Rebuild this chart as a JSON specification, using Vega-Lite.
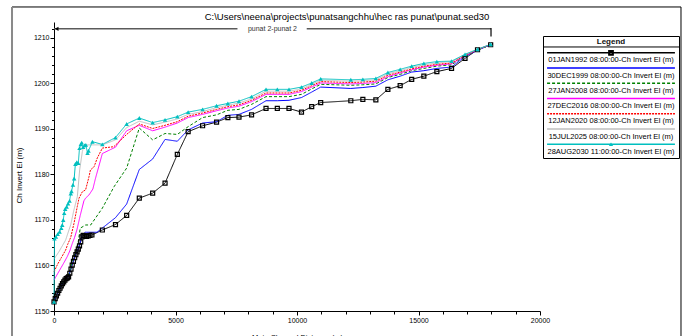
{
"$schema": "https://vega.github.io/schema/vega-lite/v6.json",
"padding": {"left": 11, "top": 5, "right": 0, "bottom": 0},
"background": "white",
"config": {"font": "Liberation Sans", "view": {"stroke": null}, "axis": {"labelOverlap": false, "labelFlush": false, "grid": false, "labelBound": false}},
"datasets": {
"prof": [
{"series":"01JAN1992","dist":0,"elev":1152.0},{"series":"01JAN1992","dist":50,"elev":1152.7},{"series":"01JAN1992","dist":100,"elev":1153.3},{"series":"01JAN1992","dist":150,"elev":1153.9},{"series":"01JAN1992","dist":200,"elev":1154.5},{"series":"01JAN1992","dist":250,"elev":1155.0},{"series":"01JAN1992","dist":300,"elev":1155.5},{"series":"01JAN1992","dist":350,"elev":1156.0},{"series":"01JAN1992","dist":400,"elev":1156.4},{"series":"01JAN1992","dist":450,"elev":1156.8},{"series":"01JAN1992","dist":500,"elev":1157.1},{"series":"01JAN1992","dist":550,"elev":1157.3},{"series":"01JAN1992","dist":600,"elev":1157.5},{"series":"01JAN1992","dist":650,"elev":1158.3},{"series":"01JAN1992","dist":700,"elev":1159.2},{"series":"01JAN1992","dist":750,"elev":1160.1},{"series":"01JAN1992","dist":800,"elev":1160.9},{"series":"01JAN1992","dist":850,"elev":1161.7},{"series":"01JAN1992","dist":900,"elev":1162.4},{"series":"01JAN1992","dist":950,"elev":1163.0},{"series":"01JAN1992","dist":1000,"elev":1163.6},{"series":"01JAN1992","dist":1050,"elev":1164.3},{"series":"01JAN1992","dist":1100,"elev":1165.2},{"series":"01JAN1992","dist":1150,"elev":1166.3},{"series":"01JAN1992","dist":1200,"elev":1166.6},{"series":"01JAN1992","dist":1270,"elev":1166.5},{"series":"01JAN1992","dist":1340,"elev":1166.4},{"series":"01JAN1992","dist":1410,"elev":1166.5},{"series":"01JAN1992","dist":1480,"elev":1166.6},{"series":"01JAN1992","dist":1560,"elev":1166.7},{"series":"01JAN1992","dist":1990,"elev":1167.8},{"series":"01JAN1992","dist":2530,"elev":1169.0},{"series":"01JAN1992","dist":2990,"elev":1171.0},{"series":"01JAN1992","dist":3510,"elev":1174.8},{"series":"01JAN1992","dist":4060,"elev":1175.9},{"series":"01JAN1992","dist":4570,"elev":1178.1},{"series":"01JAN1992","dist":5075,"elev":1184.4},{"series":"01JAN1992","dist":5520,"elev":1189.4},{"series":"01JAN1992","dist":6115,"elev":1190.7},{"series":"01JAN1992","dist":6690,"elev":1191.5},{"series":"01JAN1992","dist":7155,"elev":1192.5},{"series":"01JAN1992","dist":7613,"elev":1192.6},{"series":"01JAN1992","dist":8130,"elev":1193.1},{"series":"01JAN1992","dist":8725,"elev":1194.5},{"series":"01JAN1992","dist":9190,"elev":1194.5},{"series":"01JAN1992","dist":9671,"elev":1194.5},{"series":"01JAN1992","dist":10185,"elev":1193.7},{"series":"01JAN1992","dist":10605,"elev":1194.9},{"series":"01JAN1992","dist":10975,"elev":1195.8},{"series":"01JAN1992","dist":12215,"elev":1196.2},{"series":"01JAN1992","dist":12710,"elev":1196.5},{"series":"01JAN1992","dist":13245,"elev":1196.4},{"series":"01JAN1992","dist":13740,"elev":1198.7},{"series":"01JAN1992","dist":14245,"elev":1199.5},{"series":"01JAN1992","dist":14720,"elev":1200.9},{"series":"01JAN1992","dist":15220,"elev":1201.6},{"series":"01JAN1992","dist":15755,"elev":1202.6},{"series":"01JAN1992","dist":16360,"elev":1203.3},{"series":"01JAN1992","dist":16914,"elev":1205.5},{"series":"01JAN1992","dist":17428,"elev":1207.4},{"series":"01JAN1992","dist":17970,"elev":1208.5},
{"series":"30DEC1999","dist":0,"elev":1152.0},{"series":"30DEC1999","dist":100,"elev":1153.4},{"series":"30DEC1999","dist":200,"elev":1154.6},{"series":"30DEC1999","dist":300,"elev":1155.6},{"series":"30DEC1999","dist":400,"elev":1156.5},{"series":"30DEC1999","dist":500,"elev":1157.2},{"series":"30DEC1999","dist":600,"elev":1157.7},{"series":"30DEC1999","dist":700,"elev":1159.4},{"series":"30DEC1999","dist":800,"elev":1161.1},{"series":"30DEC1999","dist":900,"elev":1162.6},{"series":"30DEC1999","dist":1000,"elev":1163.8},{"series":"30DEC1999","dist":1100,"elev":1165.5},{"series":"30DEC1999","dist":1150,"elev":1166.7},{"series":"30DEC1999","dist":1290,"elev":1167.3},{"series":"30DEC1999","dist":1770,"elev":1167.3},{"series":"30DEC1999","dist":2530,"elev":1170.5},{"series":"30DEC1999","dist":2990,"elev":1173.5},{"series":"30DEC1999","dist":3510,"elev":1181.1},{"series":"30DEC1999","dist":4060,"elev":1183.4},{"series":"30DEC1999","dist":4570,"elev":1187.7},{"series":"30DEC1999","dist":5075,"elev":1187.3},{"series":"30DEC1999","dist":5520,"elev":1189.8},{"series":"30DEC1999","dist":6115,"elev":1191.3},{"series":"30DEC1999","dist":6690,"elev":1191.6},{"series":"30DEC1999","dist":7155,"elev":1193.0},{"series":"30DEC1999","dist":7613,"elev":1193.2},{"series":"30DEC1999","dist":8130,"elev":1194.3},{"series":"30DEC1999","dist":8725,"elev":1196.2},{"series":"30DEC1999","dist":9190,"elev":1196.2},{"series":"30DEC1999","dist":9671,"elev":1196.3},{"series":"30DEC1999","dist":10185,"elev":1196.9},{"series":"30DEC1999","dist":10605,"elev":1198.1},{"series":"30DEC1999","dist":10975,"elev":1199.2},{"series":"30DEC1999","dist":12215,"elev":1198.9},{"series":"30DEC1999","dist":12710,"elev":1199.1},{"series":"30DEC1999","dist":13245,"elev":1199.4},{"series":"30DEC1999","dist":13740,"elev":1200.8},{"series":"30DEC1999","dist":14245,"elev":1201.6},{"series":"30DEC1999","dist":14720,"elev":1202.5},{"series":"30DEC1999","dist":15220,"elev":1202.8},{"series":"30DEC1999","dist":15755,"elev":1203.3},{"series":"30DEC1999","dist":16360,"elev":1203.6},{"series":"30DEC1999","dist":16914,"elev":1205.9},{"series":"30DEC1999","dist":17428,"elev":1207.3},{"series":"30DEC1999","dist":17970,"elev":1208.5},
{"series":"27JAN2008","dist":0,"elev":1152.0},{"series":"27JAN2008","dist":100,"elev":1153.6},{"series":"27JAN2008","dist":200,"elev":1154.9},{"series":"27JAN2008","dist":300,"elev":1155.9},{"series":"27JAN2008","dist":400,"elev":1156.8},{"series":"27JAN2008","dist":500,"elev":1157.5},{"series":"27JAN2008","dist":600,"elev":1158.0},{"series":"27JAN2008","dist":700,"elev":1159.9},{"series":"27JAN2008","dist":800,"elev":1161.7},{"series":"27JAN2008","dist":900,"elev":1163.2},{"series":"27JAN2008","dist":1000,"elev":1165.3},{"series":"27JAN2008","dist":1080,"elev":1168.2},{"series":"27JAN2008","dist":1300,"elev":1168.9},{"series":"27JAN2008","dist":1510,"elev":1168.9},{"series":"27JAN2008","dist":1990,"elev":1172.6},{"series":"27JAN2008","dist":2470,"elev":1177.3},{"series":"27JAN2008","dist":2990,"elev":1181.4},{"series":"27JAN2008","dist":3510,"elev":1190.2},{"series":"27JAN2008","dist":4060,"elev":1187.6},{"series":"27JAN2008","dist":4570,"elev":1189.0},{"series":"27JAN2008","dist":5075,"elev":1188.8},{"series":"27JAN2008","dist":5520,"elev":1190.5},{"series":"27JAN2008","dist":6115,"elev":1192.5},{"series":"27JAN2008","dist":6690,"elev":1193.1},{"series":"27JAN2008","dist":7155,"elev":1194.1},{"series":"27JAN2008","dist":7613,"elev":1194.3},{"series":"27JAN2008","dist":8130,"elev":1195.4},{"series":"27JAN2008","dist":8725,"elev":1197.1},{"series":"27JAN2008","dist":9190,"elev":1197.1},{"series":"27JAN2008","dist":9671,"elev":1197.1},{"series":"27JAN2008","dist":10185,"elev":1197.6},{"series":"27JAN2008","dist":10605,"elev":1198.8},{"series":"27JAN2008","dist":10975,"elev":1199.8},{"series":"27JAN2008","dist":12215,"elev":1199.6},{"series":"27JAN2008","dist":12710,"elev":1199.7},{"series":"27JAN2008","dist":13245,"elev":1199.9},{"series":"27JAN2008","dist":13740,"elev":1201.3},{"series":"27JAN2008","dist":14245,"elev":1202.0},{"series":"27JAN2008","dist":14720,"elev":1202.8},{"series":"27JAN2008","dist":15220,"elev":1203.3},{"series":"27JAN2008","dist":15755,"elev":1203.8},{"series":"27JAN2008","dist":16360,"elev":1204.1},{"series":"27JAN2008","dist":16914,"elev":1206.0},{"series":"27JAN2008","dist":17428,"elev":1207.3},{"series":"27JAN2008","dist":17970,"elev":1208.5},
{"series":"27DEC2016","dist":0,"elev":1156.8},{"series":"27DEC2016","dist":150,"elev":1158.2},{"series":"27DEC2016","dist":300,"elev":1159.6},{"series":"27DEC2016","dist":450,"elev":1161.0},{"series":"27DEC2016","dist":550,"elev":1162.0},{"series":"27DEC2016","dist":650,"elev":1163.2},{"series":"27DEC2016","dist":750,"elev":1164.8},{"series":"27DEC2016","dist":850,"elev":1166.2},{"series":"27DEC2016","dist":950,"elev":1168.0},{"series":"27DEC2016","dist":1080,"elev":1171.0},{"series":"27DEC2016","dist":1230,"elev":1174.2},{"series":"27DEC2016","dist":1300,"elev":1174.8},{"series":"27DEC2016","dist":1440,"elev":1175.5},{"series":"27DEC2016","dist":1600,"elev":1176.8},{"series":"27DEC2016","dist":1700,"elev":1179.0},{"series":"27DEC2016","dist":1990,"elev":1184.6},{"series":"27DEC2016","dist":2530,"elev":1186.0},{"series":"27DEC2016","dist":2990,"elev":1189.6},{"series":"27DEC2016","dist":3510,"elev":1190.8},{"series":"27DEC2016","dist":4060,"elev":1189.6},{"series":"27DEC2016","dist":4570,"elev":1190.4},{"series":"27DEC2016","dist":5075,"elev":1191.3},{"series":"27DEC2016","dist":5520,"elev":1192.5},{"series":"27DEC2016","dist":6115,"elev":1193.2},{"series":"27DEC2016","dist":6690,"elev":1194.0},{"series":"27DEC2016","dist":7155,"elev":1194.6},{"series":"27DEC2016","dist":7613,"elev":1195.0},{"series":"27DEC2016","dist":8130,"elev":1196.0},{"series":"27DEC2016","dist":8725,"elev":1197.6},{"series":"27DEC2016","dist":9190,"elev":1197.6},{"series":"27DEC2016","dist":9671,"elev":1197.6},{"series":"27DEC2016","dist":10185,"elev":1198.2},{"series":"27DEC2016","dist":10605,"elev":1199.2},{"series":"27DEC2016","dist":10975,"elev":1200.1},{"series":"27DEC2016","dist":12215,"elev":1199.9},{"series":"27DEC2016","dist":12710,"elev":1200.0},{"series":"27DEC2016","dist":13245,"elev":1200.2},{"series":"27DEC2016","dist":13740,"elev":1201.5},{"series":"27DEC2016","dist":14245,"elev":1202.3},{"series":"27DEC2016","dist":14720,"elev":1203.0},{"series":"27DEC2016","dist":15220,"elev":1203.6},{"series":"27DEC2016","dist":15755,"elev":1204.0},{"series":"27DEC2016","dist":16360,"elev":1204.3},{"series":"27DEC2016","dist":16914,"elev":1206.1},{"series":"27DEC2016","dist":17428,"elev":1207.4},{"series":"27DEC2016","dist":17970,"elev":1208.6},
{"series":"12JAN2020","dist":0,"elev":1158.6},{"series":"12JAN2020","dist":150,"elev":1160.3},{"series":"12JAN2020","dist":300,"elev":1161.7},{"series":"12JAN2020","dist":480,"elev":1163.4},{"series":"12JAN2020","dist":560,"elev":1164.6},{"series":"12JAN2020","dist":690,"elev":1166.2},{"series":"12JAN2020","dist":820,"elev":1169.2},{"series":"12JAN2020","dist":960,"elev":1173.0},{"series":"12JAN2020","dist":1030,"elev":1174.8},{"series":"12JAN2020","dist":1166,"elev":1176.2},{"series":"12JAN2020","dist":1300,"elev":1176.6},{"series":"12JAN2020","dist":1440,"elev":1179.5},{"series":"12JAN2020","dist":1500,"elev":1181.0},{"series":"12JAN2020","dist":1650,"elev":1181.7},{"series":"12JAN2020","dist":1780,"elev":1183.6},{"series":"12JAN2020","dist":1990,"elev":1185.8},{"series":"12JAN2020","dist":2460,"elev":1186.1},{"series":"12JAN2020","dist":2990,"elev":1188.8},{"series":"12JAN2020","dist":3510,"elev":1191.1},{"series":"12JAN2020","dist":4060,"elev":1190.1},{"series":"12JAN2020","dist":4570,"elev":1190.8},{"series":"12JAN2020","dist":5075,"elev":1191.6},{"series":"12JAN2020","dist":5520,"elev":1192.8},{"series":"12JAN2020","dist":6115,"elev":1193.5},{"series":"12JAN2020","dist":6690,"elev":1194.3},{"series":"12JAN2020","dist":7155,"elev":1194.9},{"series":"12JAN2020","dist":7613,"elev":1195.3},{"series":"12JAN2020","dist":8130,"elev":1196.3},{"series":"12JAN2020","dist":8725,"elev":1197.9},{"series":"12JAN2020","dist":9190,"elev":1197.9},{"series":"12JAN2020","dist":9671,"elev":1197.9},{"series":"12JAN2020","dist":10185,"elev":1198.5},{"series":"12JAN2020","dist":10605,"elev":1199.5},{"series":"12JAN2020","dist":10975,"elev":1200.4},{"series":"12JAN2020","dist":12215,"elev":1200.2},{"series":"12JAN2020","dist":12710,"elev":1200.3},{"series":"12JAN2020","dist":13245,"elev":1200.5},{"series":"12JAN2020","dist":13740,"elev":1201.8},{"series":"12JAN2020","dist":14245,"elev":1202.5},{"series":"12JAN2020","dist":14720,"elev":1203.2},{"series":"12JAN2020","dist":15220,"elev":1203.8},{"series":"12JAN2020","dist":15755,"elev":1204.2},{"series":"12JAN2020","dist":16360,"elev":1204.5},{"series":"12JAN2020","dist":16914,"elev":1206.2},{"series":"12JAN2020","dist":17428,"elev":1207.4},{"series":"12JAN2020","dist":17970,"elev":1208.6},
{"series":"15JUL2025","dist":0,"elev":1161.4},{"series":"15JUL2025","dist":200,"elev":1163.0},{"series":"15JUL2025","dist":480,"elev":1165.6},{"series":"15JUL2025","dist":690,"elev":1169.0},{"series":"15JUL2025","dist":820,"elev":1172.2},{"series":"15JUL2025","dist":960,"elev":1175.1},{"series":"15JUL2025","dist":1056,"elev":1181.0},{"series":"15JUL2025","dist":1166,"elev":1185.0},{"series":"15JUL2025","dist":1235,"elev":1186.5},{"series":"15JUL2025","dist":1990,"elev":1186.5},{"series":"15JUL2025","dist":2530,"elev":1187.6},{"series":"15JUL2025","dist":2990,"elev":1190.3},{"series":"15JUL2025","dist":3510,"elev":1191.7},{"series":"15JUL2025","dist":4060,"elev":1190.9},{"series":"15JUL2025","dist":4570,"elev":1191.5},{"series":"15JUL2025","dist":5075,"elev":1192.2},{"series":"15JUL2025","dist":5520,"elev":1193.2},{"series":"15JUL2025","dist":6115,"elev":1193.8},{"series":"15JUL2025","dist":6690,"elev":1194.7},{"series":"15JUL2025","dist":7155,"elev":1195.2},{"series":"15JUL2025","dist":7613,"elev":1195.7},{"series":"15JUL2025","dist":8130,"elev":1196.6},{"series":"15JUL2025","dist":8725,"elev":1198.3},{"series":"15JUL2025","dist":9190,"elev":1198.3},{"series":"15JUL2025","dist":9671,"elev":1198.3},{"series":"15JUL2025","dist":10185,"elev":1198.8},{"series":"15JUL2025","dist":10605,"elev":1199.8},{"series":"15JUL2025","dist":10975,"elev":1200.7},{"series":"15JUL2025","dist":12215,"elev":1200.5},{"series":"15JUL2025","dist":12710,"elev":1200.6},{"series":"15JUL2025","dist":13245,"elev":1200.8},{"series":"15JUL2025","dist":13740,"elev":1202.1},{"series":"15JUL2025","dist":14245,"elev":1202.8},{"series":"15JUL2025","dist":14720,"elev":1203.5},{"series":"15JUL2025","dist":15220,"elev":1204.1},{"series":"15JUL2025","dist":15755,"elev":1204.5},{"series":"15JUL2025","dist":16360,"elev":1204.8},{"series":"15JUL2025","dist":16914,"elev":1206.3},{"series":"15JUL2025","dist":17428,"elev":1207.5},{"series":"15JUL2025","dist":17970,"elev":1208.6},
{"series":"28AUG2030","dist":0,"elev":1152.0},{"series":"28AUG2030","dist":20,"elev":1165.9},{"series":"28AUG2030","dist":80,"elev":1166.3},{"series":"28AUG2030","dist":150,"elev":1166.9},{"series":"28AUG2030","dist":230,"elev":1167.4},{"series":"28AUG2030","dist":300,"elev":1168.2},{"series":"28AUG2030","dist":340,"elev":1168.9},{"series":"28AUG2030","dist":380,"elev":1170.0},{"series":"28AUG2030","dist":420,"elev":1171.5},{"series":"28AUG2030","dist":460,"elev":1172.4},{"series":"28AUG2030","dist":520,"elev":1172.9},{"series":"28AUG2030","dist":580,"elev":1173.6},{"series":"28AUG2030","dist":640,"elev":1174.2},{"series":"28AUG2030","dist":690,"elev":1175.8},{"series":"28AUG2030","dist":720,"elev":1176.3},{"series":"28AUG2030","dist":780,"elev":1177.7},{"series":"28AUG2030","dist":830,"elev":1179.1},{"series":"28AUG2030","dist":880,"elev":1182.3},{"series":"28AUG2030","dist":940,"elev":1182.7},{"series":"28AUG2030","dist":1000,"elev":1182.5},{"series":"28AUG2030","dist":1050,"elev":1185.8},{"series":"28AUG2030","dist":1100,"elev":1186.6},{"series":"28AUG2030","dist":1140,"elev":1187.0},{"series":"28AUG2030","dist":1200,"elev":1186.0},{"series":"28AUG2030","dist":1260,"elev":1186.4},{"series":"28AUG2030","dist":1310,"elev":1186.5},{"series":"28AUG2030","dist":1380,"elev":1184.7},{"series":"28AUG2030","dist":1420,"elev":1185.2},{"series":"28AUG2030","dist":1580,"elev":1187.2},{"series":"28AUG2030","dist":1990,"elev":1186.6},{"series":"28AUG2030","dist":2530,"elev":1188.1},{"series":"28AUG2030","dist":2990,"elev":1191.1},{"series":"28AUG2030","dist":3510,"elev":1192.4},{"series":"28AUG2030","dist":4060,"elev":1191.4},{"series":"28AUG2030","dist":4570,"elev":1192.0},{"series":"28AUG2030","dist":5075,"elev":1192.7},{"series":"28AUG2030","dist":5520,"elev":1193.7},{"series":"28AUG2030","dist":6115,"elev":1194.3},{"series":"28AUG2030","dist":6690,"elev":1195.1},{"series":"28AUG2030","dist":7155,"elev":1195.6},{"series":"28AUG2030","dist":7613,"elev":1196.1},{"series":"28AUG2030","dist":8130,"elev":1197.1},{"series":"28AUG2030","dist":8725,"elev":1198.7},{"series":"28AUG2030","dist":9190,"elev":1198.7},{"series":"28AUG2030","dist":9671,"elev":1198.7},{"series":"28AUG2030","dist":10185,"elev":1199.2},{"series":"28AUG2030","dist":10605,"elev":1200.1},{"series":"28AUG2030","dist":10975,"elev":1201.0},{"series":"28AUG2030","dist":12215,"elev":1200.8},{"series":"28AUG2030","dist":12710,"elev":1200.9},{"series":"28AUG2030","dist":13245,"elev":1201.1},{"series":"28AUG2030","dist":13740,"elev":1202.4},{"series":"28AUG2030","dist":14245,"elev":1203.1},{"series":"28AUG2030","dist":14720,"elev":1203.8},{"series":"28AUG2030","dist":15220,"elev":1204.4},{"series":"28AUG2030","dist":15755,"elev":1204.8},{"series":"28AUG2030","dist":16360,"elev":1204.9},{"series":"28AUG2030","dist":16914,"elev":1206.4},{"series":"28AUG2030","dist":17428,"elev":1207.5},{"series":"28AUG2030","dist":17970,"elev":1208.6}
],
"leg": [
{"series":"01JAN1992","label":"01JAN1992 08:00:00-Ch Invert El (m)"},
{"series":"30DEC1999","label":"30DEC1999 08:00:00-Ch Invert El (m)"},
{"series":"27JAN2008","label":"27JAN2008 08:00:00-Ch Invert El (m)"},
{"series":"27DEC2016","label":"27DEC2016 08:00:00-Ch Invert El (m)"},
{"series":"12JAN2020","label":"12JAN2020 08:00:00-Ch Invert El (m)"},
{"series":"15JUL2025","label":"15JUL2025 08:00:00-Ch Invert El (m)"},
{"series":"28AUG2030","label":"28AUG2030 11:00:00-Ch Invert El (m)"}
]
},
"bounds": "flush",
"spacing": 3,
"resolve": {"scale": {"x": "independent", "y": "independent"}},
"hconcat": [
{
"width": 486,
"height": 289,
"title": {"text": "C:\\Users\\neena\\projects\\punatsangchhu\\hec ras punat\\punat.sed30", "fontSize": 9.5, "fontWeight": "normal", "color": "black", "anchor": "middle", "frame": "group", "dx": 50, "offset": -16},
"resolve": {"axis": {"x": "independent", "y": "independent"}},
"layer": [
{
"data": {"name": "prof"},
"mark": {"type": "line", "strokeWidth": 1},
"encoding": {
"x": {"field": "dist", "type": "quantitative", "scale": {"domain": [0, 20000], "nice": false, "zero": false},
"axis": {"orient": "bottom", "values": [0,5000,10000,15000,20000], "format": "d", "grid": false, "tickSize": 4, "tickColor": "black", "domainColor": "black", "labelColor": "black", "labelFontSize": 7, "labelPadding": 1, "labelFlush": false, "labelOverlap": false, "title": "Main Channel Distance (m)", "titleFontSize": 7.5, "titleFontWeight": "normal", "titleColor": "black", "titlePadding": 10}},
"y": {"field": "elev", "type": "quantitative", "scale": {"domain": [1150, 1213.5], "nice": false, "zero": false},
"axis": {"orient": "left", "values": [1150,1160,1170,1180,1190,1200,1210], "format": "d", "grid": false, "tickSize": 4, "tickColor": "black", "domainColor": "black", "labelColor": "black", "labelFontSize": 7, "labelPadding": 1, "labelOverlap": false, "labelFlush": false, "title": "Ch Invert El (m)", "titleFontSize": 8, "titleFontWeight": "normal", "titleColor": "black", "titlePadding": 10, "titleY": 153}},
"color": {"field": "series", "type": "nominal", "legend": null, "scale": {"domain": ["01JAN1992","30DEC1999","27JAN2008","27DEC2016","12JAN2020","15JUL2025","28AUG2030"], "range": ["#000000","#0000ff","#008000","#ff00ff","#ff0000","#c0c0c0","#00bfbf"]}},
"strokeDash": {"field": "series", "type": "nominal", "legend": null, "scale": {"domain": ["01JAN1992","30DEC1999","27JAN2008","27DEC2016","12JAN2020","15JUL2025","28AUG2030"], "range": [[1,0],[1,0],[3,2],[1,0],[2,1],[1,0],[1,0]]}}
}
},
{
"data": {"name": "prof"},
"transform": [{"filter": {"field": "series", "equal": "01JAN1992"}}],
"mark": {"type": "point", "shape": "square", "filled": false, "color": "black", "size": 16, "strokeWidth": 1.2, "opacity": 1},
"encoding": {
"x": {"field": "dist", "type": "quantitative", "axis": {"orient": "bottom", "values": [1000,2000,3000,4000,6000,7000,8000,9000,11000,12000,13000,14000,16000,17000,18000,19000], "labels": false, "domain": false, "grid": false, "tickSize": 3, "tickColor": "black", "title": null}},
"y": {"field": "elev", "type": "quantitative", "axis": {"orient": "left", "values": [1152,1154,1156,1158,1162,1164,1166,1168,1172,1174,1176,1178,1182,1184,1186,1188,1192,1194,1196,1198,1202,1204,1206,1208,1212], "labels": false, "domain": false, "grid": false, "tickSize": 2.5, "tickColor": "black", "title": null}}
}
},
{
"data": {"name": "prof"},
"transform": [{"filter": {"field": "series", "equal": "28AUG2030"}}],
"mark": {"type": "point", "shape": "triangle-up", "filled": true, "color": "#00bfbf", "size": 20, "opacity": 1},
"encoding": {"x": {"field": "dist", "type": "quantitative", "axis": null}, "y": {"field": "elev", "type": "quantitative", "axis": null}}
},
{
"data": {"values": [{}]},
"mark": {"type": "rule", "color": "#5a5a5a", "strokeWidth": 1.5},
"encoding": {"x": {"datum": 0, "axis": null}, "x2": {"datum": 7550}, "y": {"datum": 1212, "axis": null}}
},
{
"data": {"values": [{}]},
"mark": {"type": "rule", "color": "#5a5a5a", "strokeWidth": 1.5},
"encoding": {"x": {"datum": 10400, "axis": null}, "x2": {"datum": 17984}, "y": {"datum": 1212, "axis": null}}
},
{
"data": {"values": [{}]},
"mark": {"type": "rule", "color": "black", "strokeWidth": 1.2},
"encoding": {"x": {"datum": 17984, "axis": null}, "y": {"datum": 1210.3, "axis": null}, "y2": {"datum": 1212.2}}
},
{
"data": {"values": [{}]},
"mark": {"type": "point", "shape": "triangle-left", "filled": true, "color": "black", "size": 18, "opacity": 1},
"encoding": {"x": {"datum": 110, "axis": null}, "y": {"datum": 1212, "axis": null}}
},
{
"data": {"values": [{}]},
"mark": {"type": "text", "fontSize": 7, "color": "#333333", "align": "center", "baseline": "middle"},
"encoding": {"x": {"datum": 8990, "axis": null}, "y": {"datum": 1212, "axis": null}, "text": {"value": "punat 2-punat 2"}}
},
{
"data": {"values": [{}]},
"mark": {"type": "rule", "color": "black", "strokeWidth": 1},
"encoding": {"x": {"datum": -1728, "axis": null}, "x2": {"datum": 25802}, "y": {"datum": 1216.8, "axis": null}}
},
{
"data": {"values": [{}]},
"mark": {"type": "rule", "color": "#8a8a8a", "strokeWidth": 2},
"encoding": {"x": {"datum": -1728, "axis": null}, "y": {"datum": 1216.8, "axis": null}, "y2": {"datum": 1143.6}}
},
{
"data": {"values": [{}]},
"mark": {"type": "rule", "color": "black", "strokeWidth": 1},
"encoding": {"x": {"datum": 25802, "axis": null}, "y": {"datum": 1216.8, "axis": null}, "y2": {"datum": 1143.6}}
}
]
},
{
"bounds": "flush",
"spacing": 0,
"vconcat": [
{
"width": 136,
"height": 14,
"data": {"values": [{}]},
"mark": {"type": "text"},
"encoding": {"text": {"value": ""}}
},
{
"width": 136,
"height": 122,
"view": {"stroke": "black", "strokeWidth": 1},
"layer": [
{
"data": {"name": "leg"},
"mark": {"type": "rule", "strokeWidth": 1.5},
"encoding": {
"x": {"datum": 0.03, "type": "quantitative", "scale": {"domain": [0, 1], "nice": false, "zero": false}, "axis": null},
"x2": {"datum": 0.97},
"y": {"field": "series", "type": "nominal", "bandPosition": 0.1, "axis": null, "scale": {"domain": ["Legend","01JAN1992","30DEC1999","27JAN2008","27DEC2016","12JAN2020","15JUL2025","28AUG2030"], "paddingInner": 0, "paddingOuter": 0}},
"color": {"field": "series", "type": "nominal", "legend": null, "scale": {"domain": ["01JAN1992","30DEC1999","27JAN2008","27DEC2016","12JAN2020","15JUL2025","28AUG2030"], "range": ["#000000","#0000ff","#008000","#ff00ff","#ff0000","#c0c0c0","#00bfbf"]}},
"strokeDash": {"field": "series", "type": "nominal", "legend": null, "scale": {"domain": ["01JAN1992","30DEC1999","27JAN2008","27DEC2016","12JAN2020","15JUL2025","28AUG2030"], "range": [[1,0],[1,0],[3,2],[1,0],[2,1],[1,0],[1,0]]}}
}
},
{
"data": {"name": "leg"},
"transform": [{"filter": {"field": "series", "equal": "01JAN1992"}}],
"mark": {"type": "point", "shape": "square", "filled": false, "color": "black", "size": 14, "opacity": 1},
"encoding": {"x": {"datum": 0.5}, "y": {"field": "series", "type": "nominal", "bandPosition": 0.1}}
},
{
"data": {"name": "leg"},
"transform": [{"filter": {"field": "series", "equal": "28AUG2030"}}],
"mark": {"type": "point", "shape": "triangle-up", "filled": true, "color": "#00bfbf", "size": 18, "opacity": 1},
"encoding": {"x": {"datum": 0.5}, "y": {"field": "series", "type": "nominal", "bandPosition": 0.1}}
},
{
"data": {"name": "leg"},
"mark": {"type": "text", "fontSize": 7.5, "align": "center", "baseline": "middle", "color": "black"},
"encoding": {"x": {"datum": 0.5}, "y": {"field": "series", "type": "nominal", "bandPosition": 0.6}, "text": {"field": "label"}}
},
{
"data": {"values": [{}]},
"mark": {"type": "text", "fontSize": 8, "fontWeight": "bold", "align": "center", "baseline": "middle", "color": "#111111"},
"encoding": {"x": {"datum": 0.5}, "y": {"datum": "Legend", "type": "nominal", "bandPosition": 0.38}, "text": {"value": "Legend"}}
},
{
"data": {"values": [{}]},
"mark": {"type": "rule", "color": "black", "strokeWidth": 1},
"encoding": {"x": {"datum": 0}, "x2": {"datum": 1}, "y": {"datum": "Legend", "type": "nominal", "bandPosition": 0.72}}
}
]
}
]
}
]
}
